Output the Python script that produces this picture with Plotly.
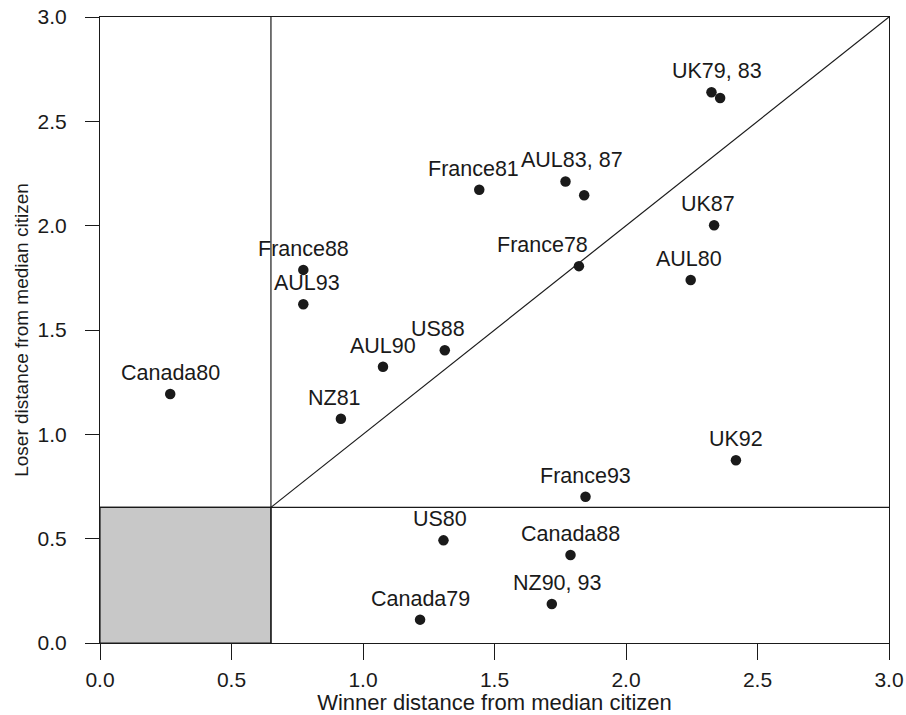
import plotly.graph_objects as go

# ---- data ----
labels = ["Canada80", "France88", "AUL93", "US88", "AUL90", "NZ81", "France81",
          "AUL83", "AUL87", "France78", "AUL80", "UK87", "UK92", "UK79", "UK83",
          "France93", "US80", "Canada88", "NZ90", "Canada79"]
winner = [0.267, 0.773, 0.773, 1.311, 1.076, 0.916, 1.442,
          1.770, 1.841, 1.821, 2.246, 2.335, 2.418, 2.325, 2.358,
          1.846, 1.306, 1.789, 1.718, 1.217]
loser = [1.193, 1.788, 1.623, 1.403, 1.324, 1.075, 2.172,
         2.212, 2.146, 1.806, 1.740, 2.002, 0.876, 2.639, 2.612,
         0.701, 0.492, 0.422, 0.187, 0.112]
# text shown above each point ("" = no separate label)
point_text = ["Canada80", "France88", "AUL93", "US88", "AUL90", "NZ81", "France81",
              "AUL83, 87", "", "France78", "AUL80", "UK87", "UK92", "UK79, 83", "",
              "France93", "US80", "Canada88", "NZ90, 93", "Canada79"]
threshold = 0.65
axis_max = 3.0
tick_vals = [0.0, 0.5, 1.0, 1.5, 2.0, 2.5, 3.0]
tick_text = ["0.0", "0.5", "1.0", "1.5", "2.0", "2.5", "3.0"]

# label horizontal nudges in pixels (style only)
label_dx = {"AUL93": 4, "US88": -7, "NZ81": -6, "France81": -6, "AUL83": 6,
            "France78": -36, "AUL80": -2, "UK87": -6, "UK79": 6, "US80": -3,
            "NZ90": 5}

FONT = "Liberation Sans, Arial, Helvetica, sans-serif"
INK = "#1a1a1a"

fig = go.Figure()

# shaded region
fig.add_shape(type="rect", x0=0, y0=0, x1=threshold, y1=threshold,
              fillcolor="#c8c8c8", line=dict(color=INK, width=1.2), layer="below")
# reference lines
fig.add_shape(type="line", x0=threshold, x1=threshold, y0=0, y1=axis_max,
              line=dict(color=INK, width=1.2))
fig.add_shape(type="line", x0=0, x1=axis_max, y0=threshold, y1=threshold,
              line=dict(color=INK, width=1.2))
fig.add_trace(go.Scatter(x=[threshold, axis_max], y=[threshold, axis_max],
                         mode="lines", line=dict(color=INK, width=1.2),
                         hoverinfo="skip", showlegend=False))

fig.add_trace(go.Scatter(x=winner, y=loser, mode="markers",
                         marker=dict(size=10.5, color=INK, line=dict(width=0)),
                         text=labels, showlegend=False))

for lab, x, y, t in zip(labels, winner, loser, point_text):
    if not t:
        continue
    fig.add_annotation(x=x, y=y, text=t, showarrow=False,
                       xanchor="center", yanchor="bottom",
                       xshift=label_dx.get(lab, 0), yshift=7,
                       font=dict(family=FONT, size=21.5, color=INK))

axis_common = dict(range=[0, axis_max], tickvals=tick_vals, ticktext=tick_text,
                   showgrid=False, zeroline=False, showline=True, mirror=True,
                   linecolor=INK, linewidth=1.2, ticks="outside", tickcolor=INK,
                   tickwidth=1.2, tickfont=dict(family=FONT, size=21, color=INK),
                   automargin=False, ticklabeloverflow="allow")

fig.update_xaxes(**axis_common, ticklen=16, ticklabelstandoff=2,
                 title_text="Winner distance from median citizen", title_standoff=0,
                 title_font=dict(family=FONT, size=22, color=INK))
fig.update_yaxes(**axis_common, ticklen=14, ticklabelstandoff=14,
                 title_text="Loser distance from median citizen", title_standoff=3,
                 title_font=dict(family=FONT, size=19, color=INK))

fig.update_layout(width=906, height=715,
                  margin=dict(l=100, r=16.7, t=17.3, b=71.7),
                  plot_bgcolor="white", paper_bgcolor="white")

fig.write_html("out.html", config={"displayModeBar": False},
               post_script="document.body.style.margin='0';document.body.style.overflow='hidden';")
